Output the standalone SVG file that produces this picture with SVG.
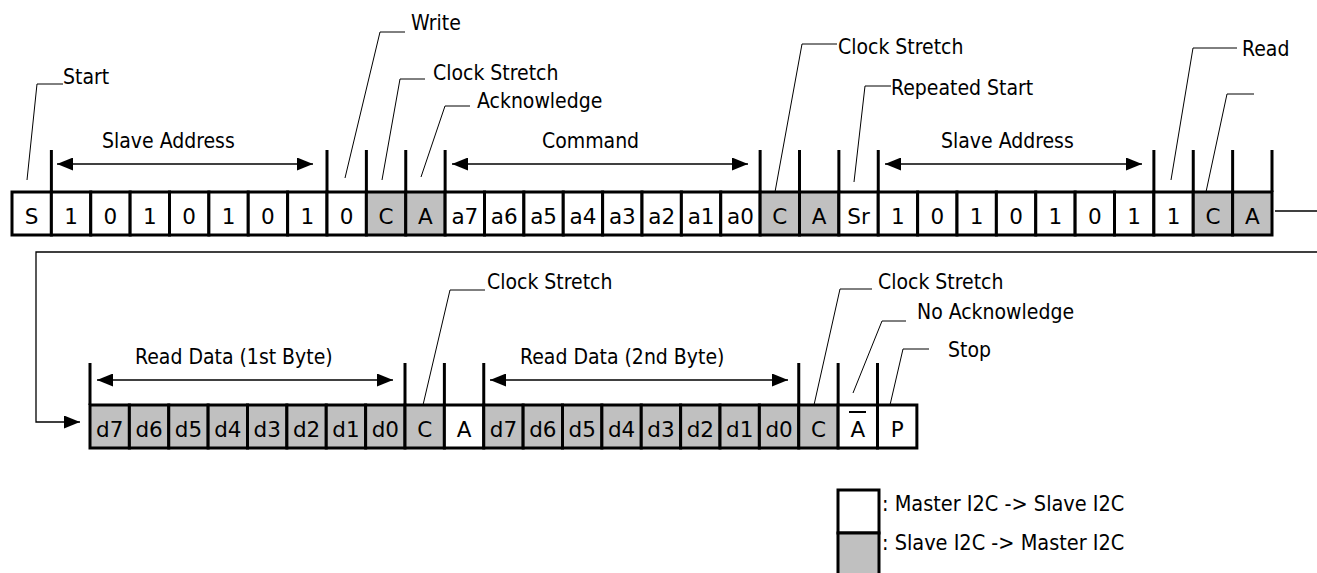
<svg xmlns="http://www.w3.org/2000/svg" width="1317" height="573" viewBox="0 0 1317 573">
<style>
  .c rect { stroke: #000; stroke-width: 3; }
  .w { fill: #fff; }
  .g { fill: #c0c0c0; }
  .ct { font-family: "DejaVu Sans", "Liberation Sans", sans-serif; font-size: 21.5px; text-anchor: middle; fill: #000; }
  .lbl { font-family: "DejaVu Sans Condensed", "Noto Sans", sans-serif; font-stretch: condensed; font-size: 21px; fill: #000; }
  .leg { font-family: "DejaVu Sans Condensed", "Noto Sans", sans-serif; font-stretch: condensed; font-size: 21.5px; fill: #000; }
  .tick { stroke: #000; stroke-width: 3; }
  .ldr { fill: none; stroke: #000; stroke-width: 1; }
  .arr { fill: none; stroke: #000; stroke-width: 1.3; marker-start: url(#ah); marker-end: url(#ah); }
  .conn { fill: none; stroke: #000; stroke-width: 1.3; }
</style>
<defs>
  <marker id="ah" markerUnits="userSpaceOnUse" markerWidth="16" markerHeight="13" refX="16" refY="6.5" orient="auto-start-reverse">
    <path d="M0,0 L16,6.5 L0,13 z" fill="#000"/>
  </marker>
</defs>
<rect width="1317" height="573" fill="#fff"/>

<!-- Top row -->
<g id="row1">
  <g id="t0" class="c"><rect class="w" x="12" y="192" width="39.375" height="43"/><text class="ct" x="31.69" y="224">S</text></g>
  <g id="t1" class="c"><rect class="w" x="51.38" y="192" width="39.375" height="43"/><text class="ct" x="71.06" y="224">1</text></g>
  <g id="t2" class="c"><rect class="w" x="90.75" y="192" width="39.375" height="43"/><text class="ct" x="110.44" y="224">0</text></g>
  <g id="t3" class="c"><rect class="w" x="130.13" y="192" width="39.375" height="43"/><text class="ct" x="149.81" y="224">1</text></g>
  <g id="t4" class="c"><rect class="w" x="169.5" y="192" width="39.375" height="43"/><text class="ct" x="189.19" y="224">0</text></g>
  <g id="t5" class="c"><rect class="w" x="208.88" y="192" width="39.375" height="43"/><text class="ct" x="228.56" y="224">1</text></g>
  <g id="t6" class="c"><rect class="w" x="248.25" y="192" width="39.375" height="43"/><text class="ct" x="267.94" y="224">0</text></g>
  <g id="t7" class="c"><rect class="w" x="287.63" y="192" width="39.375" height="43"/><text class="ct" x="307.31" y="224">1</text></g>
  <g id="t8" class="c"><rect class="w" x="327" y="192" width="39.375" height="43"/><text class="ct" x="346.69" y="224">0</text></g>
  <g id="t9" class="c"><rect class="g" x="366.38" y="192" width="39.375" height="43"/><text class="ct" x="386.06" y="224">C</text></g>
  <g id="t10" class="c"><rect class="g" x="405.75" y="192" width="39.375" height="43"/><text class="ct" x="425.44" y="224">A</text></g>
  <g id="t11" class="c"><rect class="w" x="445.13" y="192" width="39.375" height="43"/><text class="ct" x="464.81" y="224">a7</text></g>
  <g id="t12" class="c"><rect class="w" x="484.5" y="192" width="39.375" height="43"/><text class="ct" x="504.19" y="224">a6</text></g>
  <g id="t13" class="c"><rect class="w" x="523.88" y="192" width="39.375" height="43"/><text class="ct" x="543.56" y="224">a5</text></g>
  <g id="t14" class="c"><rect class="w" x="563.25" y="192" width="39.375" height="43"/><text class="ct" x="582.94" y="224">a4</text></g>
  <g id="t15" class="c"><rect class="w" x="602.63" y="192" width="39.375" height="43"/><text class="ct" x="622.31" y="224">a3</text></g>
  <g id="t16" class="c"><rect class="w" x="642" y="192" width="39.375" height="43"/><text class="ct" x="661.69" y="224">a2</text></g>
  <g id="t17" class="c"><rect class="w" x="681.38" y="192" width="39.375" height="43"/><text class="ct" x="701.06" y="224">a1</text></g>
  <g id="t18" class="c"><rect class="w" x="720.75" y="192" width="39.375" height="43"/><text class="ct" x="740.44" y="224">a0</text></g>
  <g id="t19" class="c"><rect class="g" x="760.13" y="192" width="39.375" height="43"/><text class="ct" x="779.81" y="224">C</text></g>
  <g id="t20" class="c"><rect class="g" x="799.5" y="192" width="39.375" height="43"/><text class="ct" x="819.19" y="224">A</text></g>
  <g id="t21" class="c"><rect class="w" x="838.88" y="192" width="39.375" height="43"/><text class="ct" x="858.56" y="224">Sr</text></g>
  <g id="t22" class="c"><rect class="w" x="878.25" y="192" width="39.375" height="43"/><text class="ct" x="897.94" y="224">1</text></g>
  <g id="t23" class="c"><rect class="w" x="917.63" y="192" width="39.375" height="43"/><text class="ct" x="937.31" y="224">0</text></g>
  <g id="t24" class="c"><rect class="w" x="957" y="192" width="39.375" height="43"/><text class="ct" x="976.69" y="224">1</text></g>
  <g id="t25" class="c"><rect class="w" x="996.38" y="192" width="39.375" height="43"/><text class="ct" x="1016.06" y="224">0</text></g>
  <g id="t26" class="c"><rect class="w" x="1035.75" y="192" width="39.375" height="43"/><text class="ct" x="1055.44" y="224">1</text></g>
  <g id="t27" class="c"><rect class="w" x="1075.13" y="192" width="39.375" height="43"/><text class="ct" x="1094.81" y="224">0</text></g>
  <g id="t28" class="c"><rect class="w" x="1114.5" y="192" width="39.375" height="43"/><text class="ct" x="1134.19" y="224">1</text></g>
  <g id="t29" class="c"><rect class="w" x="1153.88" y="192" width="39.375" height="43"/><text class="ct" x="1173.56" y="224">1</text></g>
  <g id="t30" class="c"><rect class="g" x="1193.25" y="192" width="39.375" height="43"/><text class="ct" x="1212.94" y="224">C</text></g>
  <g id="t31" class="c"><rect class="g" x="1232.63" y="192" width="39.375" height="43"/><text class="ct" x="1252.31" y="224">A</text></g>
</g>

<!-- Bottom row -->
<g id="row2">
  <g id="b0" class="c"><rect class="g" x="90" y="405" width="39.375" height="43"/><text class="ct" x="109.69" y="437">d7</text></g>
  <g id="b1" class="c"><rect class="g" x="129.38" y="405" width="39.375" height="43"/><text class="ct" x="149.06" y="437">d6</text></g>
  <g id="b2" class="c"><rect class="g" x="168.75" y="405" width="39.375" height="43"/><text class="ct" x="188.44" y="437">d5</text></g>
  <g id="b3" class="c"><rect class="g" x="208.13" y="405" width="39.375" height="43"/><text class="ct" x="227.81" y="437">d4</text></g>
  <g id="b4" class="c"><rect class="g" x="247.5" y="405" width="39.375" height="43"/><text class="ct" x="267.19" y="437">d3</text></g>
  <g id="b5" class="c"><rect class="g" x="286.88" y="405" width="39.375" height="43"/><text class="ct" x="306.56" y="437">d2</text></g>
  <g id="b6" class="c"><rect class="g" x="326.25" y="405" width="39.375" height="43"/><text class="ct" x="345.94" y="437">d1</text></g>
  <g id="b7" class="c"><rect class="g" x="365.63" y="405" width="39.375" height="43"/><text class="ct" x="385.31" y="437">d0</text></g>
  <g id="b8" class="c"><rect class="g" x="405" y="405" width="39.375" height="43"/><text class="ct" x="424.69" y="437">C</text></g>
  <g id="b9" class="c"><rect class="w" x="444.38" y="405" width="39.375" height="43"/><text class="ct" x="464.06" y="437">A</text></g>
  <g id="b10" class="c"><rect class="g" x="483.75" y="405" width="39.375" height="43"/><text class="ct" x="503.44" y="437">d7</text></g>
  <g id="b11" class="c"><rect class="g" x="523.13" y="405" width="39.375" height="43"/><text class="ct" x="542.81" y="437">d6</text></g>
  <g id="b12" class="c"><rect class="g" x="562.5" y="405" width="39.375" height="43"/><text class="ct" x="582.19" y="437">d5</text></g>
  <g id="b13" class="c"><rect class="g" x="601.88" y="405" width="39.375" height="43"/><text class="ct" x="621.56" y="437">d4</text></g>
  <g id="b14" class="c"><rect class="g" x="641.25" y="405" width="39.375" height="43"/><text class="ct" x="660.94" y="437">d3</text></g>
  <g id="b15" class="c"><rect class="g" x="680.63" y="405" width="39.375" height="43"/><text class="ct" x="700.31" y="437">d2</text></g>
  <g id="b16" class="c"><rect class="g" x="720" y="405" width="39.375" height="43"/><text class="ct" x="739.69" y="437">d1</text></g>
  <g id="b17" class="c"><rect class="g" x="759.38" y="405" width="39.375" height="43"/><text class="ct" x="779.06" y="437">d0</text></g>
  <g id="b18" class="c"><rect class="g" x="798.75" y="405" width="39.375" height="43"/><text class="ct" x="818.44" y="437">C</text></g>
  <g id="b19" class="c"><rect class="w" x="838.13" y="405" width="39.375" height="43"/><text class="ct" x="857.81" y="437">A</text><line x1="849" y1="412" x2="866" y2="412" stroke="#000" stroke-width="2"/></g>
  <g id="b20" class="c"><rect class="w" x="877.5" y="405" width="39.375" height="43"/><text class="ct" x="897.19" y="437">P</text></g>
</g>

<!-- Field boundary ticks -->
<g id="ticks">
  <line class="tick" x1="51.38" y1="150" x2="51.38" y2="192"/>
  <line class="tick" x1="327" y1="150" x2="327" y2="192"/>
  <line class="tick" x1="366.38" y1="150" x2="366.38" y2="192"/>
  <line class="tick" x1="405.75" y1="150" x2="405.75" y2="192"/>
  <line class="tick" x1="445.13" y1="150" x2="445.13" y2="192"/>
  <line class="tick" x1="760.13" y1="150" x2="760.13" y2="192"/>
  <line class="tick" x1="799.5" y1="150" x2="799.5" y2="192"/>
  <line class="tick" x1="838.88" y1="150" x2="838.88" y2="192"/>
  <line class="tick" x1="878.25" y1="150" x2="878.25" y2="192"/>
  <line class="tick" x1="1153.88" y1="150" x2="1153.88" y2="192"/>
  <line class="tick" x1="1193.25" y1="150" x2="1193.25" y2="192"/>
  <line class="tick" x1="1232.63" y1="150" x2="1232.63" y2="192"/>
  <line class="tick" x1="1272" y1="150" x2="1272" y2="192"/>
  <line class="tick" x1="90" y1="363" x2="90" y2="405"/>
  <line class="tick" x1="405" y1="363" x2="405" y2="405"/>
  <line class="tick" x1="444.38" y1="363" x2="444.38" y2="405"/>
  <line class="tick" x1="483.75" y1="363" x2="483.75" y2="405"/>
  <line class="tick" x1="798.75" y1="363" x2="798.75" y2="405"/>
  <line class="tick" x1="838.13" y1="363" x2="838.13" y2="405"/>
  <line class="tick" x1="877.5" y1="363" x2="877.5" y2="405"/>
</g>

<!-- Connectors: span arrows, leaders, wrap -->
<g id="connectors">
  <line class="arr" x1="57" y1="164" x2="313" y2="164"/>
  <line class="arr" x1="452" y1="164" x2="748" y2="164"/>
  <line class="arr" x1="885" y1="164" x2="1142" y2="164"/>
  <line class="arr" x1="97" y1="380" x2="393" y2="380"/>
  <line class="arr" x1="490" y1="380" x2="788" y2="380"/>

  <polyline class="ldr" points="27,180 37,84 63,84"/>
  <polyline class="ldr" points="345,178 380,32 405,32"/>
  <polyline class="ldr" points="382,180 400,79 425,79"/>
  <polyline class="ldr" points="421,177 445,106 470,106"/>
  <polyline class="ldr" points="775,192 802,44 837,44"/>
  <polyline class="ldr" points="854,182 865,86 891,86"/>
  <polyline class="ldr" points="1171,180 1193,48 1237,48"/>
  <polyline class="ldr" points="1206,192 1227,94 1254,94"/>
  <polyline class="ldr" points="423,405 450,290 485,290"/>
  <polyline class="ldr" points="814,405 840,289 872,289"/>
  <polyline class="ldr" points="853,393 882,321 906,321"/>
  <polyline class="ldr" points="890,405 903,349 929,349"/>

  <line class="conn" x1="1275" y1="211" x2="1317" y2="211"/>
  <polyline class="conn" points="1317,252 36,252 36,422 80,422" marker-end="url(#ah)"/>
</g>

<!-- Labels -->
<g id="labels">
  <text class="lbl" x="63" y="84">Start</text>
  <text class="lbl" x="411" y="30">Write</text>
  <text class="lbl" x="433" y="80">Clock Stretch</text>
  <text class="lbl" x="477" y="108">Acknowledge</text>
  <text class="lbl" x="102" y="148">Slave Address</text>
  <text class="lbl" x="542" y="148">Command</text>
  <text class="lbl" x="838" y="54">Clock Stretch</text>
  <text class="lbl" x="891" y="95">Repeated Start</text>
  <text class="lbl" x="941" y="148">Slave Address</text>
  <text class="lbl" x="1242" y="56">Read</text>
  <text class="lbl" x="135" y="364">Read Data (1st Byte)</text>
  <text class="lbl" x="520" y="364">Read Data (2nd Byte)</text>
  <text class="lbl" x="487" y="289">Clock Stretch</text>
  <text class="lbl" x="878" y="289">Clock Stretch</text>
  <text class="lbl" x="917" y="319">No Acknowledge</text>
  <text class="lbl" x="948" y="357">Stop</text>
</g>

<!-- Legend -->
<g id="legend">
  <rect x="838" y="490" width="41" height="43" fill="#fff" stroke="#000" stroke-width="3"/>
  <rect x="838" y="533" width="41" height="45" fill="#c0c0c0" stroke="#000" stroke-width="3"/>
  <text class="leg" x="882" y="511">: Master I2C -&gt; Slave I2C</text>
  <text class="leg" x="882" y="550">: Slave I2C -&gt; Master I2C</text>
</g>
</svg>
